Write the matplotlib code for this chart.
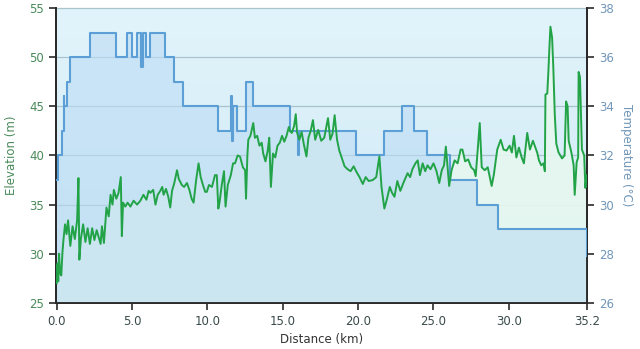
import numpy as np
import matplotlib
matplotlib.use("Agg")
import matplotlib.pyplot as plt
from matplotlib.colors import LinearSegmentedColormap

# elevation profile (km, m)
dist_km = [
    0.00, 0.05, 0.10, 0.15, 0.22, 0.30, 0.38, 0.45, 0.55, 0.65, 0.75, 0.90, 1.05, 1.20, 1.35,
    1.44, 1.50, 1.60, 1.75, 1.90, 2.05, 2.20, 2.35, 2.50, 2.65, 2.80, 2.91, 3.00, 3.13, 3.30,
    3.45, 3.57, 3.70, 3.79, 3.95, 4.10, 4.25, 4.32, 4.40, 4.55, 4.70, 4.89, 5.10, 5.33, 5.55,
    5.75, 5.95, 6.10, 6.21, 6.40, 6.55, 6.70, 6.87, 7.00, 7.09, 7.25, 7.40, 7.53, 7.65, 7.80,
    7.98, 8.10, 8.30, 8.45, 8.64, 8.80, 8.95, 9.08, 9.25, 9.41, 9.55, 9.70, 9.85, 9.96, 10.10,
    10.30, 10.50, 10.62, 10.72, 10.80, 10.95, 11.10, 11.20, 11.35, 11.55, 11.70, 11.83, 12.00, 12.16, 12.35,
    12.50, 12.56, 12.65, 12.71, 12.85, 13.04, 13.15, 13.30, 13.45, 13.60, 13.70, 13.85, 14.00, 14.10, 14.21,
    14.35, 14.50, 14.65, 14.80, 14.95, 15.10, 15.25, 15.40, 15.47, 15.60, 15.75, 15.86, 15.95, 16.10, 16.25,
    16.40, 16.57, 16.70, 16.85, 17.00, 17.15, 17.35, 17.55, 17.75, 18.00, 18.15, 18.30, 18.44, 18.60, 18.75,
    18.88, 19.10, 19.30, 19.50, 19.70, 19.90, 20.09, 20.31, 20.50, 20.70, 20.97, 21.20, 21.41, 21.55, 21.74,
    21.90, 22.10, 22.25, 22.41, 22.60, 22.80, 23.00, 23.28, 23.45, 23.60, 23.80, 23.95, 24.10, 24.28, 24.45,
    24.60, 24.80, 25.00, 25.20, 25.38, 25.55, 25.70, 25.82, 25.95, 26.04, 26.20, 26.40, 26.60, 26.80, 26.92,
    27.10, 27.30, 27.50, 27.70, 27.80, 28.07, 28.20, 28.40, 28.60, 28.86, 29.00, 29.23, 29.46, 29.65, 29.85,
    30.05, 30.20, 30.34, 30.50, 30.67, 30.85, 31.00, 31.22, 31.40, 31.60, 31.88, 32.00, 32.15, 32.30, 32.39,
    32.43, 32.55, 32.62, 32.69, 32.76, 32.87, 32.95, 33.05, 33.15, 33.30, 33.53, 33.70, 33.80, 33.90, 33.97,
    34.15, 34.30, 34.37, 34.50, 34.60, 34.63, 34.72, 34.85, 35.00, 35.08, 35.15,
]
elev_m = [
    27.0, 29.0, 27.2, 30.0, 28.0, 27.8, 30.2, 31.5, 33.0, 32.0, 33.4, 30.8, 32.8, 31.5, 33.4,
    37.7, 29.4, 31.5, 33.0, 31.2, 32.6, 31.0, 32.6, 31.4, 32.4, 31.6, 31.0, 32.8, 31.1, 34.7,
    33.8, 36.0, 35.0, 36.5, 35.6, 36.2, 37.8, 31.8, 35.2, 34.8, 35.2, 34.8, 35.4, 35.0, 35.4,
    36.0, 35.5, 36.4, 36.2, 36.5, 35.0, 36.0, 36.4, 36.8, 36.0, 36.6, 35.8, 34.7, 36.4, 37.2,
    38.5, 37.6, 37.0, 36.8, 37.2, 36.5, 35.6, 35.2, 37.5, 39.2, 37.8, 37.0, 36.3, 36.3, 37.0,
    36.8, 38.0, 38.0, 34.6, 35.2, 37.0, 38.4, 34.8, 37.0, 38.0, 39.2, 39.2, 40.0, 39.9, 38.8,
    38.5, 35.6, 40.0, 41.6, 42.0, 43.3, 41.8, 42.0, 41.0, 41.3, 40.2, 39.4, 40.5, 41.8, 36.8,
    40.2, 39.8, 41.0, 41.3, 42.0, 41.4, 42.0, 42.9, 42.5, 42.3, 43.0, 44.2, 42.3, 41.6, 42.4,
    41.1, 39.9, 41.8, 42.5, 43.6, 41.6, 42.6, 41.5, 41.8, 43.8, 41.6, 42.2, 44.1, 41.6, 40.5,
    39.9, 38.9, 38.6, 38.4, 38.9, 38.3, 37.8, 37.1, 37.8, 37.4, 37.5, 37.8, 39.9, 36.8, 34.6,
    35.5, 36.8, 36.2, 35.8, 37.4, 36.4, 37.2, 38.2, 37.8, 38.6, 39.2, 39.5, 38.0, 39.2, 38.4,
    39.0, 38.6, 39.2, 38.4, 37.2, 38.5, 39.0, 40.9, 38.5, 36.9, 38.5, 39.5, 39.2, 40.6, 40.6,
    39.4, 39.6, 38.8, 38.5, 37.9, 43.3, 38.8, 38.5, 38.8, 36.9, 38.0, 40.6, 41.6, 40.6, 40.5,
    41.0, 40.3, 42.0, 39.8, 40.8, 39.8, 39.2, 42.3, 40.6, 41.5, 40.3, 39.5, 39.0, 39.2, 38.4,
    46.2, 46.3, 48.4, 50.9, 53.1, 52.0, 49.0, 44.1, 41.2, 40.3, 39.7, 40.0, 45.5, 45.0, 41.5,
    40.3, 39.0, 36.0, 39.3, 39.8, 48.5, 48.0, 40.6, 40.0, 36.7, 38.0,
]

# temperature steps (km where the step starts, degC)
temp_km = [
    0.00, 0.05, 0.33, 0.45, 0.50, 0.65, 0.86, 2.20, 3.90, 4.67, 5.00, 5.33, 5.62, 5.70, 5.93,
    6.20, 7.18, 7.80, 8.37, 10.73, 11.57, 11.62, 11.72, 11.94, 12.56, 13.02, 15.47, 16.00, 16.10,
    19.87, 21.70, 22.90, 23.73, 24.60, 26.08, 27.87, 29.28, 35.18, 35.2,
]
temp_c = [
    31.0, 32.0, 33.0, 34.4, 34.0, 35.0, 36.0, 37.0, 36.0, 37.0, 36.0, 37.0, 35.6, 37.0, 36.0,
    37.0, 36.0, 35.0, 34.0, 33.0, 34.4, 32.6, 34.0, 33.0, 35.0, 34.0, 33.0, 32.0, 33.0,
    32.0, 33.0, 34.0, 33.0, 32.0, 31.0, 30.0, 29.0, 29.0, 27.9,
]

x_ticks = [0.0, 5.0, 10.0, 15.0, 20.0, 25.0, 30.0, 35.2]
x_ticklabels = ["0.0", "5.0", "10.0", "15.0", "20.0", "25.0", "30.0", "35.2"]

GREEN = "#22a347"
BLUE = "#5b9fd6"

fig = plt.figure(figsize=(6.4, 3.49), dpi=100)
ax = fig.add_axes([0.0875, 0.132, 0.830, 0.845])
ax2 = ax.twinx()

XMIN, XMAX = -0.05, 35.2
ax.set_xlim(XMIN, XMAX)
ax.set_ylim(25, 55)
ax2.set_ylim(26, 38)

## sky gradient behind everything
sky = LinearSegmentedColormap.from_list("sky", ["#cde8f5", "#e2f4fb"])
ax.imshow(np.linspace(0, 1, 100).reshape(-1, 1), cmap=sky, aspect="auto",
          extent=[XMIN, XMAX, 25, 55], origin="lower", zorder=0)

for y in [30, 35, 40, 45, 50, 55]:
    ax.axhline(y, color="#a9c3cc", lw=0.9, zorder=1, clip_on=False)

## elevation fill
ax.fill_between(dist_km, 25, elev_m, color="#e6f8ef", alpha=0.9, zorder=2, lw=0)

## temperature step fill + line, elevation line drawn on top (rescaled to the right axis)
ax2.fill_between(temp_km, 26, temp_c, step="post", color="#bcdcf4", alpha=0.6, lw=0, zorder=2)
ax2.step(temp_km, temp_c, where="post", color=BLUE, lw=1.5, zorder=3)
ax2.plot(dist_km, [26 + (e - 25) * 0.4 for e in elev_m], color=GREEN, lw=1.4, zorder=4)

ax.set_xticks(x_ticks)
ax.set_xticklabels(x_ticklabels)
ax.set_yticks([25, 30, 35, 40, 45, 50, 55])
ax2.set_yticks([26, 28, 30, 32, 34, 36, 38])

for a in (ax, ax2):
    a.spines["top"].set_visible(False)
    for s in ["left", "right", "bottom"]:
        a.spines[s].set_color("#2a2a2a")
        a.spines[s].set_linewidth(1.3)

ax.tick_params(axis="y", colors="#2a2a2a", labelcolor="#4a8a5a", labelsize=8.5, length=5, width=1.2)
ax.tick_params(axis="x", colors="#2a2a2a", labelcolor="#3a4a4a", labelsize=8.5, length=5, width=1.2)
ax2.tick_params(axis="y", colors="#2a2a2a", labelcolor="#7096b8", labelsize=8.5, length=5, width=1.2)

ax.set_xlabel("Distance (km)", fontsize=8.5, color="#333333", labelpad=4)
ax.set_ylabel("Elevation (m)", fontsize=8.5, color="#4a8a5a", labelpad=8)
ax2.set_ylabel("Temperature (°C)", fontsize=8.5, color="#7096b8", rotation=270, labelpad=14)

fig.patch.set_facecolor("white")
fig.savefig("out.png", dpi=100)
